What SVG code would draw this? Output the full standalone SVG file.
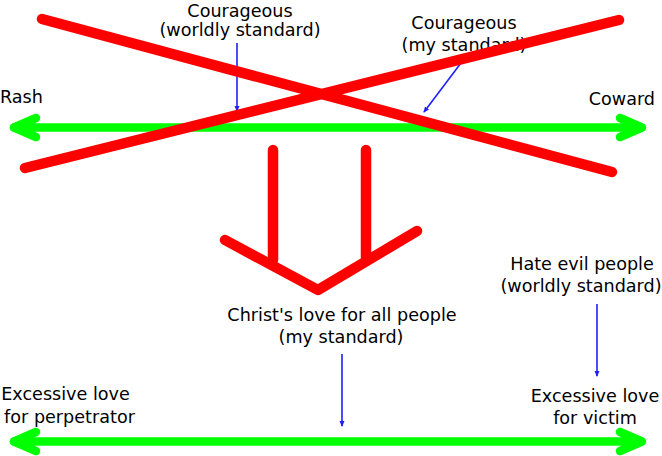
<svg xmlns="http://www.w3.org/2000/svg" width="662" height="456" viewBox="0 0 662 456">
<style>
text{font-family:"DejaVu Sans","Liberation Sans",sans-serif;font-size:17.6px;fill:#000}
.m{text-anchor:middle}
.g{stroke:#00ff00;stroke-width:8.5;fill:none;stroke-linecap:round;stroke-linejoin:round}
.b{stroke:#2020ff;stroke-width:1.6;fill:none}
.r{stroke:#ff0000;stroke-width:10.5;fill:none;stroke-linecap:round;stroke-linejoin:round}
</style>
<defs>
<marker id="ah" viewBox="0 0 6 6" refX="5" refY="3" markerWidth="6" markerHeight="6" markerUnits="userSpaceOnUse" orient="auto">
<path d="M0,0.5 L6,3 L0,5.5 Z" fill="#2020ff"/>
</marker>
</defs>
<rect width="662" height="456" fill="#fff"/>
<g id="connectors">
<g id="scale-top">
<path class="g" d="M14,127.5 L641,127.5"/>
<path class="g" d="M36,118 L14,127.5 L36,137"/>
<path class="g" d="M620,118 L642,127.5 L620,137"/>
</g>
<g id="scale-bottom">
<path class="g" d="M14,441.5 L641,441.5"/>
<path class="g" d="M36,432 L14,441.5 L36,451"/>
<path class="g" d="M620,432 L642,441.5 L620,451"/>
</g>
<path class="b" d="M237,43 L237,111" marker-end="url(#ah)"/>
<path class="b" d="M467,55 L424,112" marker-end="url(#ah)"/>
<path class="b" d="M342,354 L342,426" marker-end="url(#ah)"/>
<path class="b" d="M597,304 L597,376" marker-end="url(#ah)"/>
</g>
<g id="node-rash"><text x="0" y="103">Rash</text></g>
<g id="node-coward"><text x="655" y="105" text-anchor="end">Coward</text></g>
<g id="node-courageous-worldly"><text class="m" x="240" y="16.5">Courageous</text><text class="m" x="240" y="36">(worldly standard)</text></g>
<g id="node-courageous-my"><text class="m" x="464" y="29">Courageous</text><text class="m" x="464" y="51">(my standard)</text></g>
<g id="node-christ"><text class="m" x="342" y="321">Christ's love for all people</text><text class="m" x="341" y="343">(my standard)</text></g>
<g id="node-hate"><text class="m" x="582" y="270">Hate evil people</text><text class="m" x="581" y="292">(worldly standard)</text></g>
<g id="node-excess-perp"><text class="m" x="65.5" y="400">Excessive love</text><text class="m" x="69.5" y="423">for perpetrator</text></g>
<g id="node-excess-victim"><text class="m" x="595" y="402">Excessive love</text><text class="m" x="595" y="424">for victim</text></g>
<g id="cross-out">
<path class="r" d="M42,19 L612,172"/>
<path class="r" d="M25,168 L619,20"/>
</g>
<g id="red-arrow">
<path class="r" d="M273,150 L273,260"/>
<path class="r" d="M366,150 L366,257"/>
<path class="r" d="M225,240 L318,290 L417,231"/>
</g>
</svg>
